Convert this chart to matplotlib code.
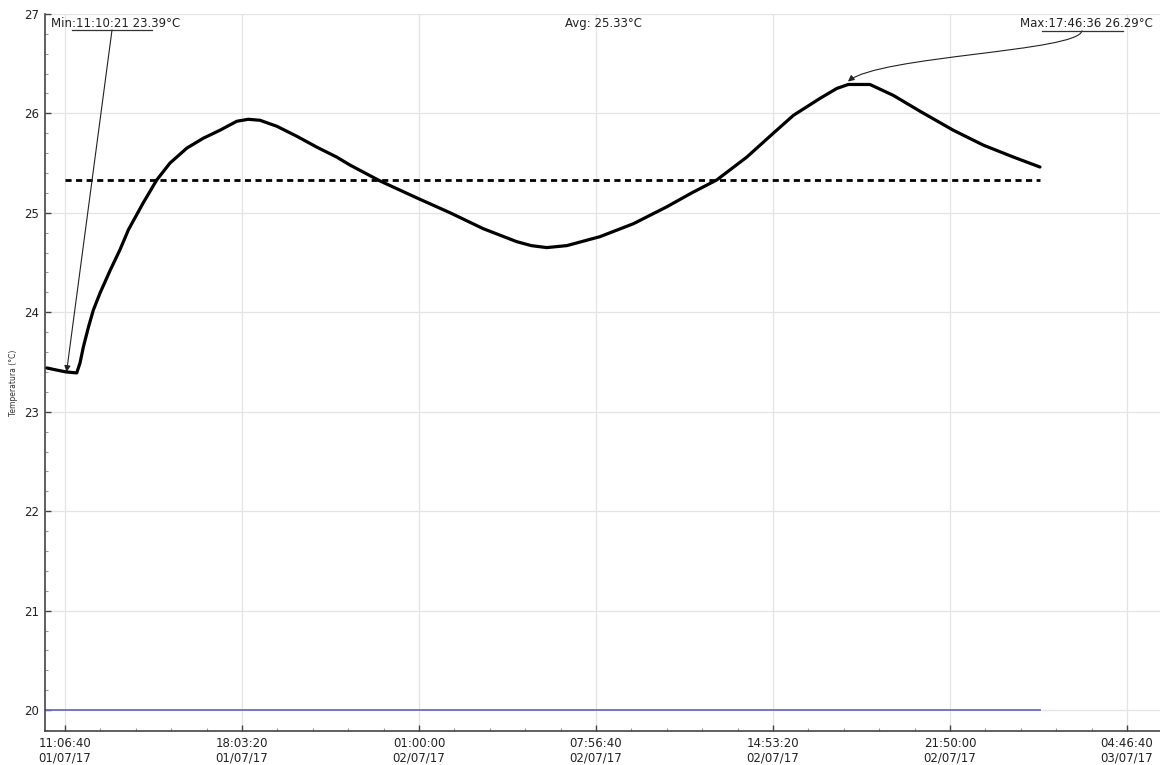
import matplotlib
matplotlib.use("Agg")
import matplotlib.pyplot as plt
from matplotlib.ticker import FixedLocator, MultipleLocator, FuncFormatter
from matplotlib.patches import FancyArrowPatch
from matplotlib.path import Path

# time in hours since 01/07/17 00:00
times_h = [10.40, 10.76, 11.15, 11.57, 11.70, 11.83, 12.03, 12.22, 12.48, 12.88,
           13.27, 13.60, 14.18, 14.71, 15.23, 15.89, 16.54, 17.19, 17.85, 18.30,
           18.76, 19.42, 20.20, 20.99, 21.77, 22.29, 23.47, 24.91, 26.22, 27.52,
           28.83, 29.40, 30.01, 30.80, 32.10, 33.41, 34.72, 35.70, 36.68, 37.86,
           38.90, 39.69, 40.73, 41.39, 41.84, 42.69, 43.61, 44.66, 45.96, 47.14,
           48.32, 49.36]
temps = [23.44, 23.42, 23.40, 23.39, 23.49, 23.65, 23.85, 24.02, 24.19, 24.42,
         24.63, 24.83, 25.10, 25.33, 25.50, 25.65, 25.75, 25.83, 25.92, 25.94,
         25.93, 25.87, 25.77, 25.66, 25.56, 25.48, 25.32, 25.15, 25.00, 24.84,
         24.71, 24.67, 24.65, 24.67, 24.76, 24.89, 25.06, 25.20, 25.33, 25.56,
         25.80, 25.98, 26.15, 26.25, 26.29, 26.29, 26.18, 26.02, 25.83, 25.68,
         25.56, 25.46]

avg_temp = 25.33
min_time_h = 11 + 10/60 + 21/3600
min_temp = 23.39
max_time_h = 24 + 17 + 46/60 + 36/3600
max_temp = 26.29
limit_temp = 20.0

min_label = "Min:11:10:21 23.39°C"
avg_label = "Avg: 25.33°C"
max_label = "Max:17:46:36 26.29°C"
y_label = "Temperatura (°C)"

tick_start_h = 11 + 6/60 + 40/3600
tick_step_h = 25000 / 3600
n_ticks = 7

fig = plt.figure(figsize=(11.6, 7.65), dpi=100)
ax = fig.add_axes([45/1160, 1 - 731/765, 1 - 45/1160, (731 - 13.85)/765])
ax.set_xlim(10.326, 54.07)
ax.set_ylim(19.79, 27)

# blue limit line
ax.plot([times_h[0] - 0.1, times_h[-1]], [limit_temp, limit_temp], color="#6b6bc4", lw=1.3, zorder=2)
# avg dashed
ax.plot([tick_start_h, times_h[-1]], [avg_temp, avg_temp], color="black", lw=2.0,
        dashes=(2.2, 1.6), zorder=3)
# main curve
ax.plot(times_h, temps, color="black", lw=2.3, zorder=4, solid_joinstyle="round",
        solid_capstyle="round")

# ticks
major = [tick_start_h + i * tick_step_h for i in range(n_ticks)]
ax.xaxis.set_major_locator(FixedLocator(major))
minor = [tick_start_h + (i / 5) * tick_step_h for i in range(-5, 5 * n_ticks + 5)]
ax.xaxis.set_minor_locator(FixedLocator(minor))

def fmt(h, pos):
    s = int(round(h * 3600))
    day = s // 86400 + 1
    s = s % 86400
    return "%02d:%02d:%02d\n%02d/07/17" % (s // 3600, (s % 3600) // 60, s % 60, day)

ax.xaxis.set_major_formatter(FuncFormatter(fmt))
ax.yaxis.set_major_locator(MultipleLocator(1))
ax.yaxis.set_minor_locator(MultipleLocator(0.2))
ax.yaxis.set_major_formatter(FuncFormatter(lambda v, p: "%d" % round(v)))

ax.tick_params(axis="both", which="major", direction="in", length=4, width=1,
               color="#444444", labelsize=8.5, labelcolor="#222222")
ax.tick_params(axis="both", which="minor", direction="in", length=2.5, width=0.8,
               color="#999999")
ax.tick_params(axis="x", pad=4)
ax.tick_params(axis="y", pad=4)

ax.grid(True, which="major", color="#e4e4e4", lw=0.9, zorder=0)
ax.set_axisbelow(True)
for s in ("top", "right"):
    ax.spines[s].set_visible(False)
for s in ("left", "bottom"):
    ax.spines[s].set_color("#444444")
    ax.spines[s].set_linewidth(1.2)

fig.text(14/1160, 1 - 383/765, y_label, rotation=90, fontsize=5.5, color="#333333",
         ha="center", va="center")

# annotations
txt_y = 26.90
ax.text(10.56, txt_y, min_label, fontsize=8.5, color="#222222", va="center", ha="left")
ax.text(32.22, txt_y, avg_label, fontsize=8.5, color="#222222", va="center", ha="center")
ax.text(48.58, txt_y, max_label, fontsize=8.5, color="#222222", va="center", ha="left")

ax.plot([11.386, 14.524], [26.838, 26.838], color="#333333", lw=0.9)
ax.plot([49.44, 52.62], [26.83, 26.83], color="#333333", lw=0.9)

ax.annotate("", xy=(min_time_h, min_temp + 0.01), xytext=(12.955, 26.838),
            arrowprops=dict(arrowstyle="-|>", lw=0.8, color="#222222", mutation_scale=9,
                            shrinkA=0, shrinkB=0))

verts = [(51.01, 26.83), (50.86, 26.62), (43.09, 26.58), (max_time_h + 0.05, max_temp + 0.03)]
path = Path(verts, [Path.MOVETO, Path.CURVE4, Path.CURVE4, Path.CURVE4])
arr = FancyArrowPatch(path=path, arrowstyle="-|>", lw=0.8, color="#222222",
                      mutation_scale=9, transform=ax.transData)
ax.add_patch(arr)

fig.savefig("out.png", dpi=100, facecolor="white")
